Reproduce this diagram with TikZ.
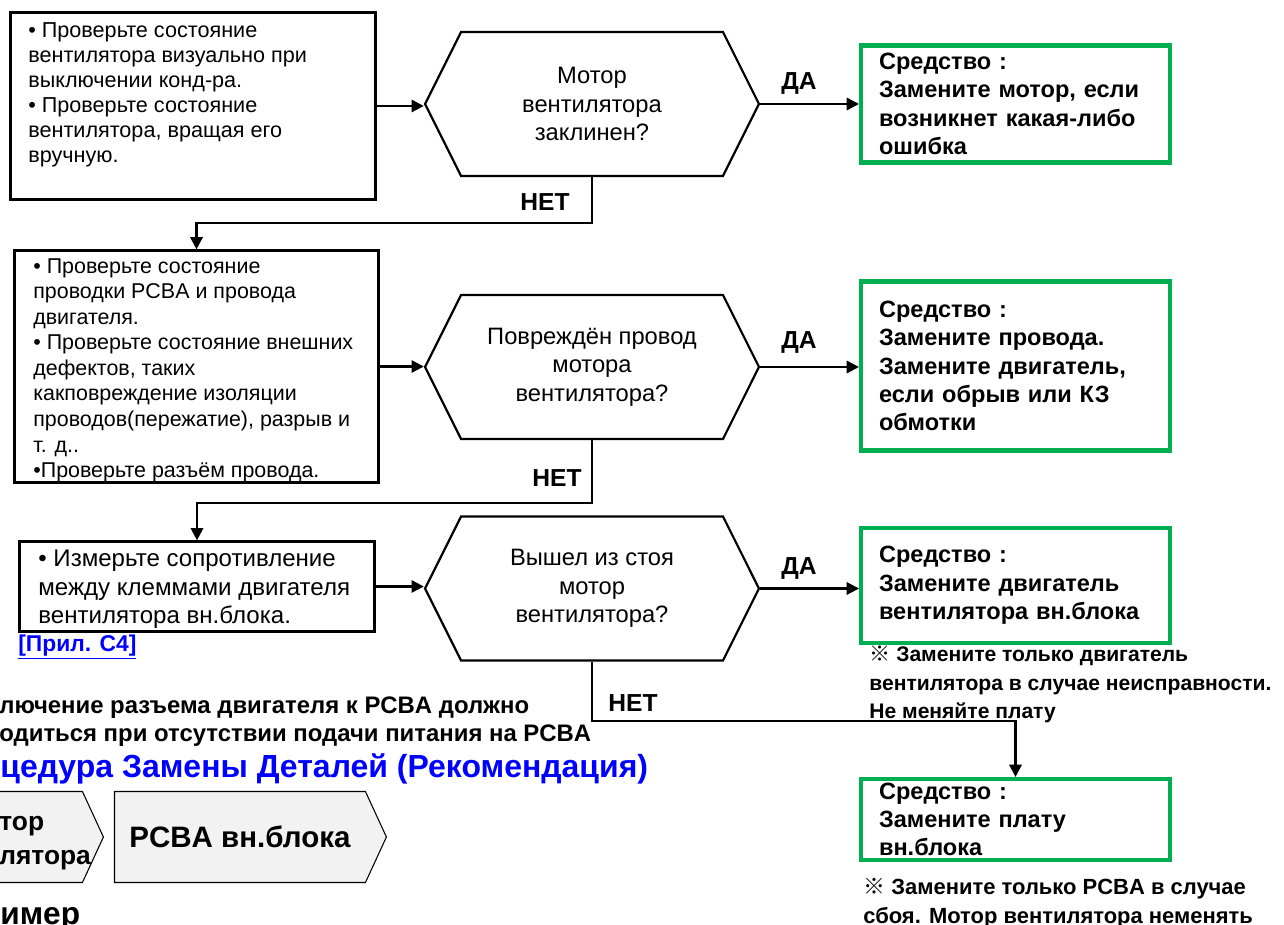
\documentclass[tikz,border=0pt]{standalone}
\usepackage{fontspec}
\setmainfont{Liberation Sans}
\newfontfamily\refmark{Noto Sans CJK JP}
\usetikzlibrary{arrows.meta,shapes.symbols}
\definecolor{okgreen}{HTML}{00B050}
\definecolor{linkblue}{HTML}{0000FF}
\definecolor{tabgray}{HTML}{F2F2F2}

\begin{document}
\begin{tikzpicture}[x=0.02cm, y=-0.02cm,
    arr/.style={-{Triangle[length=7pt,width=7pt]}, line width=1.25pt},
    checkbox/.style={draw, line width=1.25pt, inner sep=0pt},
    checktext/.style={align=left, inner sep=0pt, font=\fontsize{12.3}{14.3}\selectfont},
    question/.style={signal, signal to=east and west, signal pointer angle=126.87,
        draw, line width=1.25pt, minimum width=6.68cm, minimum height=2.88cm,
        align=center, font=\fontsize{13.5}{16.2}\selectfont},
    remedy/.style={draw=okgreen, line width=2.3pt, text width=5.46cm, inner xsep=0.36cm,
        inner ysep=2pt, align=left, font=\bfseries\fontsize{13.4}{16.1}\selectfont},
    answer/.style={font=\bfseries\fontsize{14}{16}\selectfont, inner sep=0pt},
    note/.style={align=left, inner sep=0pt, font=\bfseries\fontsize{12}{16.2}\selectfont},
    tab/.style={signal, signal to=east, signal pointer angle=130.5, draw, fill=tabgray,
        line width=0.6pt, minimum height=1.82cm, font=\bfseries\fontsize{16.8}{19}\selectfont}]
    \useasboundingbox (0,0) rectangle (1284,925);
    \clip (0,0) rectangle (1284,925);

    % Checks on the left
    \node (b1) [checkbox, minimum width=7.3cm, minimum height=3.74cm] at (193,106) {};
    \node (t1) [checktext, anchor=north west] at (28,22) {• Проверьте состояние\\вентилятора визуально при\\выключении конд-ра.\\• Проверьте состояние\\вентилятора, вращая его\\вручную.};
    \node (b2) [checkbox, minimum width=7.28cm, minimum height=4.64cm] at (196.5,366.5) {};
    \node (t2) [checktext, anchor=north west, font=\fontsize{12.2}{14.55}\selectfont] at (33,258) {• Проверьте состояние\\проводки PCBA и провода\\двигателя.\\• Проверьте состояние внешних\\дефектов, таких\\какповреждение изоляции\\проводов(пережатие), разрыв и\\т. д..\\•Проверьте разъём провода.};
    \node (b3) [checkbox, minimum width=7.1cm, minimum height=1.8cm] at (197,586.5) {};
    \node (t3) [checktext, anchor=north west, font=\fontsize{13.7}{16.2}\selectfont] at (38,550) {• Измерьте сопротивление\\между клеммами двигателя\\вентилятора вн.блока.};
    \node (ref) [anchor=west, inner sep=0pt, text=linkblue, font=\bfseries\fontsize{13}{15}\selectfont] at (18,647) {\underline{[Прил. C4]}};

    % Questions
    \node (h1) [question] at (592,104) {Мотор\\вентилятора\\заклинен?};
    \node (h2) [question] at (592,367) {Повреждён провод\\мотора\\вентилятора?};
    \node (h3) [question] at (592,588.5) {Вышел из стоя\\мотор\\вентилятора?};

    % Remedies
    \node (g1) [remedy, minimum height=2.34cm] at (1015.5,104) {Средство :\\Замените мотор, если\\возникнет какая-либо\\ошибка};
    \node (g2) [remedy, minimum height=3.38cm] at (1015.5,366) {Средство :\\Замените провода.\\Замените двигатель,\\если обрыв или КЗ\\обмотки};
    \node (g3) [remedy, minimum height=2.3cm] at (1015.5,585.5) {Средство :\\Замените двигатель\\вентилятора вн.блока};
    \node (g4) [remedy, minimum height=1.62cm] at (1015.5,819.5) {Средство :\\Замените плату\\вн.блока};
    \node (n3) [note, anchor=north west] at (869,646) {{\refmark ※} Замените только двигатель\\вентилятора в случае неисправности.\\Не меняйте плату};
    \node (n4) [note, anchor=north west, font=\bfseries\fontsize{12.5}{16.2}\selectfont] at (863,878) {{\refmark ※} Замените только PCBA в случае\\сбоя. Мотор вентилятора неменять};

    % Arrows
    \draw[arr] (b1.east) -- (b1.east -| h1.west);
    \draw[arr] (b2.east) -- (b2.east -| h2.west);
    \draw[arr] (b3.east) -- (b3.east -| h3.west);
    \draw[arr] (h1.east) -- (h1.east -| g1.west);
    \draw[arr] (h2.east) -- (h2.east -| g2.west);
    \draw[arr] (h3.east) -- (h3.east -| g3.west);
    \draw[arr] (h1.south) -- ++(0,46) -| (b2.north);
    \draw[arr] (h2.south) -- ++(0,63) -| (b3.north);
    \draw[arr] (h3.south) -- ++(0,59.5) -| (g4.north);
    \node (da1) [answer] at (799,83) {ДА};
    \node (da2) [answer] at (799,342) {ДА};
    \node (da3) [answer] at (799,568) {ДА};
    \node (net1) [answer] at (545,202) {НЕТ};
    \node (net2) [answer] at (557,478) {НЕТ};
    \node (net3) [answer] at (633,703) {НЕТ};

    % Lower left, cut by the edge
    \node (warn) [anchor=north west, align=left, inner sep=0pt, font=\bfseries\fontsize{13.6}{16.4}\selectfont] at (-1,696) {лючение разъема двигателя к PCBA должно\\одиться при отсутствии подачи питания на PCBA};
    \node (title) [anchor=base west, inner sep=0pt, text=linkblue, font=\bfseries\fontsize{18.2}{20}\selectfont] at (0,777) {цедура Замены Деталей (Рекомендация)};
    \node (ch1) [tab, anchor=east, minimum width=4cm] at (104,837) {};
    \node (ch1t) [anchor=north west, align=left, inner sep=0pt, font=\bfseries\fontsize{15}{19.3}\selectfont] at (-1,816) {тор\\лятора};
    \node (ch2) [tab, anchor=east, minimum width=5.44cm] at (387,837) {PCBA вн.блока};
    \node (ex) [anchor=base west, inner sep=0pt, font=\bfseries\fontsize{18}{20}\selectfont] at (0,924) {имер};
\end{tikzpicture}
\end{document}
